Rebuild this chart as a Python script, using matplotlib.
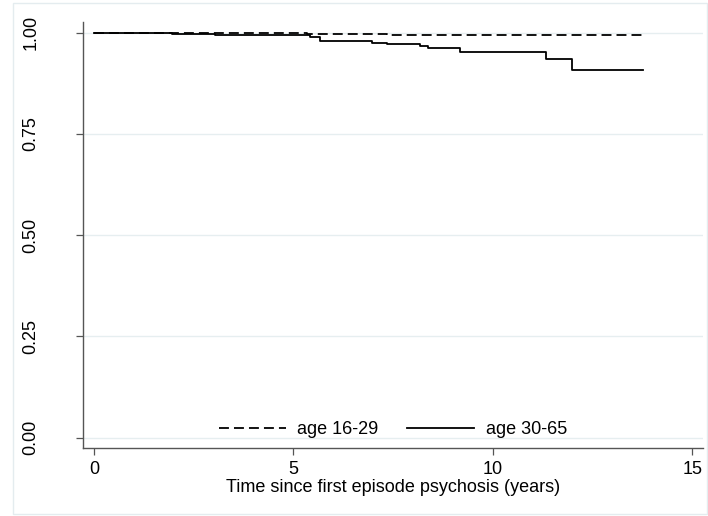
import matplotlib
matplotlib.use("Agg")
import matplotlib.pyplot as plt
from matplotlib.patches import Rectangle

# Kaplan-Meier step data (time in years, survival)
t_young = [0.0, 5.34, 7.35, 13.77]
s_young = [1.0, 0.997, 0.993, 0.993]

t_old = [0.0, 1.96, 3.03, 5.42, 5.67, 6.97, 7.35, 8.18, 8.38, 9.18, 11.34, 11.99, 13.77]
s_old = [1.0, 0.9975, 0.994, 0.989, 0.979, 0.9745, 0.971, 0.968, 0.962, 0.952, 0.936, 0.908, 0.908]

labels = ["age 16-29", "age 30-65"]
xticks = [0, 5, 10, 15]
yticks = [0.00, 0.25, 0.50, 0.75, 1.00]
ytick_labels = ["0.00", "0.25", "0.50", "0.75", "1.00"]
xlabel = "Time since first episode psychosis (years)"

plt.rcParams['font.family'] = ['Liberation Sans', 'DejaVu Sans']

W, H = 708, 516
fig = plt.figure(figsize=(W / 100, H / 100), dpi=100)
fig.patch.set_facecolor("white")

# outer graph-region frame
fig.add_artist(Rectangle((12.5 / W, 1 - 514 / H), (707 - 12.5) / W, (514 - 3) / H,
                         transform=fig.transFigure, fill=False,
                         edgecolor="#e4ecef", linewidth=1.0))

ax = fig.add_axes([83 / W, 1 - 448.3 / H, (703 - 83) / W, (448.3 - 21.7) / H])
ax.set_facecolor("white")

ax.step(t_young, s_young, where="post", color="black", linewidth=1.3,
        linestyle=(0, (5.5, 2.8)), label=labels[0])
ax.step(t_old, s_old, where="post", color="black", linewidth=1.3,
        linestyle="-", label=labels[1])

ax.set_xlim(-0.276, 15.27)
ax.set_ylim(-0.026, 1.027)
ax.set_xticks(xticks)
ax.set_xticklabels([str(v) for v in xticks])
ax.set_yticks(yticks)
ax.set_yticklabels(ytick_labels, rotation=90, va="center")

for y in yticks:
    ax.axhline(y, color="#e6eef0", linewidth=1.0, zorder=0)

for side in ["top", "right"]:
    ax.spines[side].set_visible(False)
for side in ["left", "bottom"]:
    ax.spines[side].set_color("#555555")
    ax.spines[side].set_linewidth(1.0)

ax.tick_params(axis="both", direction="out", length=5.2, width=0.9, color="#555555",
               labelsize=13, labelcolor="black")
ax.tick_params(axis="x", pad=4)
ax.tick_params(axis="y", pad=26)

ax.set_xlabel(xlabel, fontsize=13, labelpad=0.5)

leg = ax.legend(loc="lower center", bbox_to_anchor=(0.5, 0.0), ncol=2, frameon=False,
                fontsize=13, handlelength=3.7, columnspacing=1.6, handletextpad=0.65,
                borderaxespad=0.15)

fig.savefig("out.png", dpi=100, facecolor="white")
